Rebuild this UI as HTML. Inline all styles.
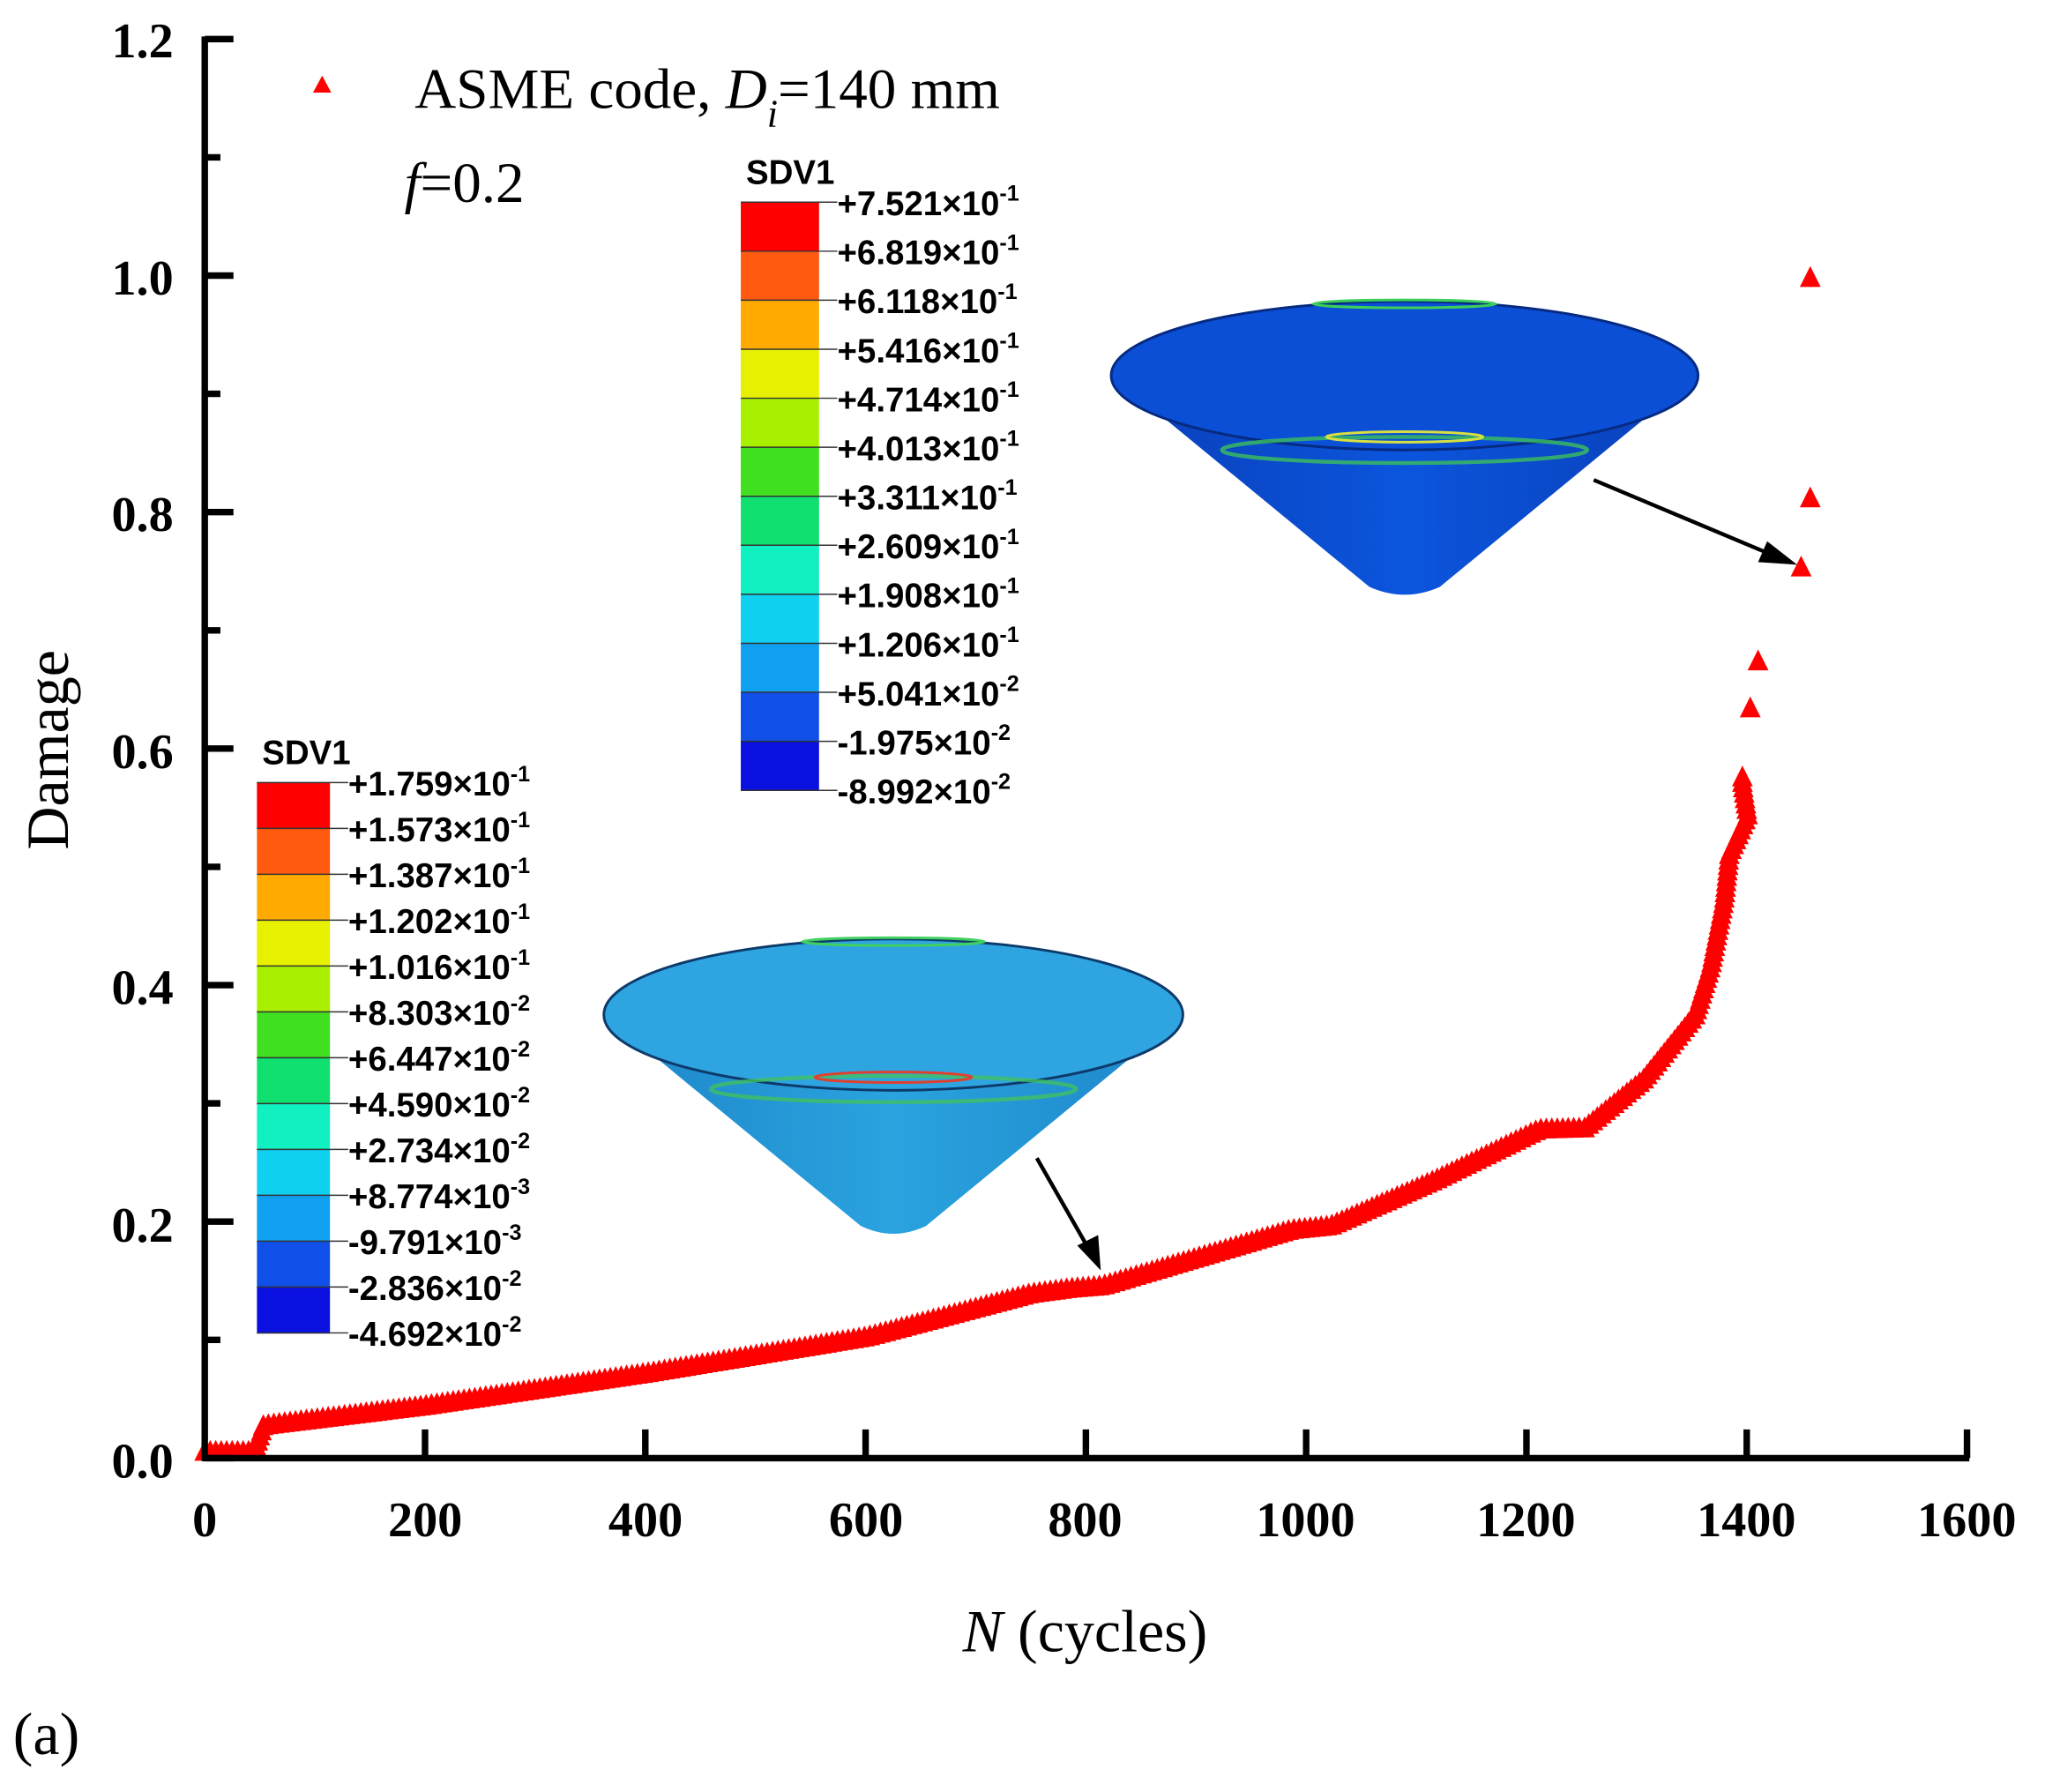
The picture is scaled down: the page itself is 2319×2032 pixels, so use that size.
<!DOCTYPE html>
<html><head><meta charset="utf-8"><style>
html,body{margin:0;padding:0;background:#fff;}
svg{display:block;}
text{font-family:"Liberation Serif",serif;}
.tk{font-weight:bold;font-size:38px;}
.cb{font-family:"Liberation Sans",sans-serif;font-weight:bold;font-size:26px;}
</style></head><body>
<svg id="s" xmlns="http://www.w3.org/2000/svg" width="2319" height="2032" viewBox="0 0 1568 1374" preserveAspectRatio="none">
<defs>
<linearGradient id="g1" x1="0" x2="1"><stop offset="0" stop-color="#0a3fb8"/><stop offset="0.5" stop-color="#0b55dd"/><stop offset="1" stop-color="#0a3fb8"/></linearGradient>
<linearGradient id="g2" x1="0" x2="1"><stop offset="0" stop-color="#1d86c8"/><stop offset="0.5" stop-color="#2aa3df"/><stop offset="1" stop-color="#1d86c8"/></linearGradient>
</defs>
<g>
<path d="M853,288 L1050,450 Q1077,462 1104,450 L1301,288 Z" fill="url(#g1)"/>
<ellipse cx="1077" cy="288" rx="225" ry="57" fill="#0a4fd6" stroke="#062a80" stroke-width="2"/>
<ellipse cx="1077" cy="345" rx="140" ry="10" fill="none" stroke="#3cbf5a" stroke-width="3" opacity="0.8"/>
<ellipse cx="1077" cy="335" rx="60" ry="4" fill="none" stroke="#d8e040" stroke-width="2"/>
<ellipse cx="1077" cy="233" rx="70" ry="3" fill="none" stroke="#3ccf5a" stroke-width="2"/>
</g>
<g>
<path d="M463,778 L660,940 Q685,952 710,940 L907,778 Z" fill="url(#g2)"/>
<ellipse cx="685" cy="778" rx="222" ry="58" fill="#2ea5e0" stroke="#0d3a6a" stroke-width="2"/>
<ellipse cx="685" cy="835" rx="140" ry="10" fill="none" stroke="#41c060" stroke-width="3" opacity="0.8"/>
<ellipse cx="685" cy="826" rx="60" ry="4" fill="none" stroke="#e04030" stroke-width="2"/>
<ellipse cx="685" cy="722" rx="70" ry="3" fill="none" stroke="#41d060" stroke-width="2"/>
</g>
<g id="cbars"></g>
<g id="pts" fill="#ff0000"></g>
<g stroke="#000" stroke-width="3" fill="#000">
<line x1="1222" y1="368" x2="1360" y2="426"/>
<polygon points="1378,433 1348,431 1355,415" stroke="none"/>
<line x1="795" y1="888" x2="835" y2="958"/>
<polygon points="844,974 826,955 842,947" stroke="none"/>
</g>
<g stroke="#000" stroke-width="5" fill="none">
<line x1="157" y1="28" x2="157" y2="1120"/>
<line x1="155" y1="1118" x2="1510" y2="1118"/>
</g>
<g id="ticks" stroke="#000" stroke-width="5"></g>
<g class="tk" text-anchor="end">
<text x="133" y="1133">0.0</text><text x="133" y="952">0.2</text><text x="133" y="770">0.4</text>
<text x="133" y="589">0.6</text><text x="133" y="407">0.8</text><text x="133" y="226">1.0</text><text x="133" y="44">1.2</text>
</g>
<g class="tk" text-anchor="middle">
<text x="157" y="1178">0</text><text x="326" y="1178">200</text><text x="495" y="1178">400</text><text x="664" y="1178">600</text>
<text x="832" y="1178">800</text><text x="1001" y="1178">1000</text><text x="1170" y="1178">1200</text><text x="1339" y="1178">1400</text><text x="1508" y="1178">1600</text>
</g>
<text x="0" y="0" font-size="46" text-anchor="middle" transform="translate(52,575) rotate(-90)">Damage</text>
<text x="832" y="1266" font-size="46" text-anchor="middle"><tspan font-style="italic">N</tspan> (cycles)</text>
<text x="10" y="1345" font-size="46">(a)</text>
<polygon points="247,58 240,71 254,71" fill="#ff0000"/>
<text x="318" y="83" font-size="44">ASME code, <tspan font-style="italic">D</tspan><tspan font-style="italic" font-size="30" dy="14">i</tspan><tspan dy="-14">=140 mm</tspan></text>
<text x="310" y="155" font-size="44"><tspan font-style="italic">f</tspan>=0.2</text>
</svg>
<script>
var NS="http://www.w3.org/2000/svg";
function el(p,t,a,txt){var e=document.createElementNS(NS,t);for(var k in a)e.setAttribute(k,a[k]);if(txt!==undefined)e.textContent=txt;p.appendChild(e);return e;}
var tk=document.getElementById('ticks');
for(var i=0;i<=12;i++){var y=1118-i*90.67;var L=(i%2==0)?22:12;el(tk,'line',{x1:157,y1:y,x2:157+L,y2:y});}
for(var i=1;i<=8;i++){var x=157+i*168.9;el(tk,'line',{x1:x,y1:1118,x2:x,y2:1096});}
var cols=["#ff0000","#ff5a10","#ffaa00","#e6f000","#a8f000","#40e020","#10d030","#10e070","#10f0c0","#10d0f0","#10a0f0","#1050e8","#0a10e0"];
var cb=document.getElementById('cbars');
function bar(x,y0,y1,w,labels,title){
 var n=labels.length-1;var h=(y1-y0)/n;
 for(var i=0;i<n;i++){var c=cols[Math.round(i*(cols.length-1)/(n-1))];el(cb,'rect',{x:x,y:y0+i*h,width:w,height:h+0.5,fill:c});}
 for(var i=0;i<=n;i++){var y=y0+i*h;el(cb,'line',{x1:x,y1:y,x2:x+w+14,y2:y,stroke:'#333','stroke-width':1});
  var m=labels[i].split('|');
  var t=el(cb,'text',{x:x+w+14,y:y+10,'class':'cb'});
  t.textContent=m[0]+"\u00d710";el(t,'tspan',{dy:-11,'font-size':17},m[1]);}
 el(cb,'text',{x:x+4,y:y0-14,'class':'cb','font-size':23},title);
}
bar(568,155,606,60,["+7.521|-1","+6.819|-1","+6.118|-1","+5.416|-1","+4.714|-1","+4.013|-1","+3.311|-1","+2.609|-1","+1.908|-1","+1.206|-1","+5.041|-2","-1.975|-2","-8.992|-2"],"SDV1");
bar(197,600,1022,56,["+1.759|-1","+1.573|-1","+1.387|-1","+1.202|-1","+1.016|-1","+8.303|-2","+6.447|-2","+4.590|-2","+2.734|-2","+8.774|-3","-9.791|-3","-2.836|-2","-4.692|-2"],"SDV1");
var seg=[[157,1113],[195,1113],[202,1093],[325,1078],[495,1053],[665,1025],[790,992],[820,988],[845,986],[990,943],[1020,940],[1100,905],[1180,866],[1215,865],[1260,828],[1300,778],[1312,740],[1322,690],[1326,655],[1340,625],[1336,600]];
var pts=document.getElementById('pts');
function tri(x,y){el(pts,'polygon',{points:(x)+','+(y-9)+' '+(x-8)+','+(y+7)+' '+(x+8)+','+(y+7)});}
var step=4.2,acc=0;
tri(seg[0][0],seg[0][1]);
for(var i=0;i<seg.length-1;i++){
 var dx=seg[i+1][0]-seg[i][0],dy=seg[i+1][1]-seg[i][1],L=Math.sqrt(dx*dx+dy*dy);
 var d=step-acc;
 while(d<=L){tri(seg[i][0]+dx*d/L,seg[i][1]+dy*d/L);d+=step;}
 acc=L-(d-step);
}
[[1336,596],[1342,543],[1348,507],[1381,435],[1388,382],[1388,213]].forEach(function(p){tri(p[0],p[1]);});
</script>
</body></html>
